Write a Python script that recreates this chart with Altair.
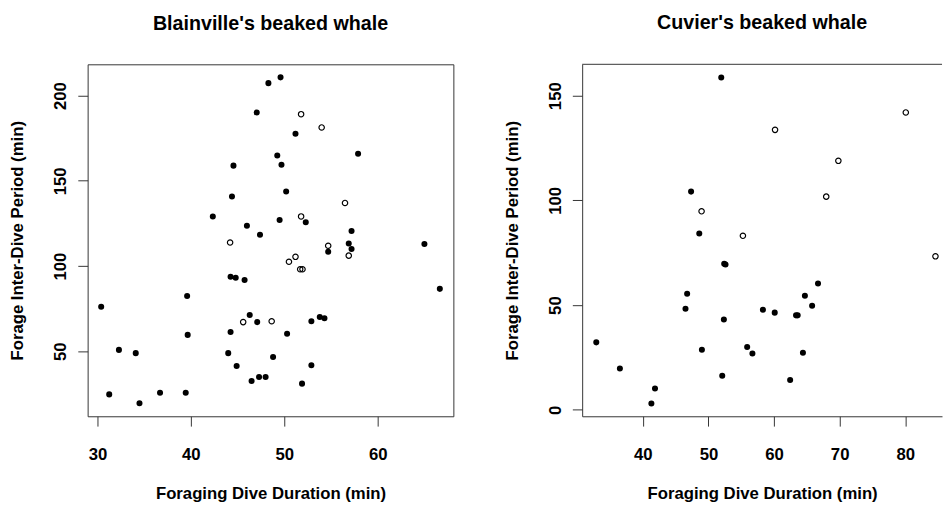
import altair as alt
import pandas as pd

# ---- Blainville's beaked whale ----
blain_filled_x = [48.3, 49.6, 47.05, 51.2, 57.9, 49.25, 49.7, 44.56, 50.2, 44.4, 52.3, 49.5,
                  46.0, 47.4, 42.35, 57.2, 56.9, 57.2, 54.7, 65.0, 66.65, 44.25, 44.8, 45.75,
                  46.3, 47.1, 44.25, 50.3, 52.9, 53.8, 54.3, 44.0, 44.9, 48.8, 52.9, 46.5,
                  47.3, 48.0, 51.9, 30.4, 39.6, 39.66, 32.3, 34.1, 31.26, 34.5, 36.7, 39.45]
blain_filled_y = [207.3, 210.7, 190.1, 177.6, 165.9, 164.9, 159.4, 158.9, 143.7, 140.8, 125.7, 127.0,
                  123.6, 118.4, 129.1, 120.5, 113.2, 110.0, 108.4, 112.9, 86.6, 93.7, 93.1, 91.8,
                  71.3, 67.1, 61.3, 60.3, 67.6, 70.1, 69.4, 48.9, 41.4, 46.6, 41.8, 32.6,
                  34.9, 34.9, 31.0, 76.1, 82.4, 59.6, 50.8, 48.9, 24.7, 19.5, 25.7, 25.7]
blain_open_x = [51.8, 54.0, 56.5, 51.8, 44.2, 54.7, 56.9, 51.2, 50.5, 51.7, 51.95, 45.6, 48.65]
blain_open_y = [189.1, 181.3, 137.0, 129.1, 113.8, 111.9, 106.1, 105.4, 102.5, 98.1, 98.1, 67.1, 67.6]

# ---- Cuvier's beaked whale ----
cuv_filled_x = [51.95, 47.35, 48.6, 52.4, 52.6, 46.75, 46.5, 52.35, 32.9, 49.0, 55.9, 56.7, 36.5,
                52.1, 41.85, 41.3, 66.7, 64.7, 65.8, 58.3, 60.1, 63.35, 63.6, 64.4, 62.45]
cuv_filled_y = [158.7, 104.2, 84.2, 69.7, 69.4, 55.4, 48.3, 43.1, 32.2, 28.7, 30.0, 26.9, 19.7,
                16.3, 10.2, 3.0, 60.3, 54.5, 49.7, 47.8, 46.4, 45.1, 45.1, 27.2, 14.2]
cuv_open_x = [48.95, 55.25, 80.08, 60.15, 69.8, 67.95, 84.6]
cuv_open_y = [94.8, 83.1, 142.0, 133.7, 118.9, 101.8, 73.3]

blain_x_ticks = [30, 40, 50, 60]
blain_y_ticks = [50, 100, 150, 200]
cuv_x_ticks = [40, 50, 60, 70, 80]
cuv_y_ticks = [0, 50, 100, 150]

X_TITLE = "Foraging Dive Duration (min)"
Y_TITLE = "Forage Inter-Dive Period (min)"
FONT = "Liberation Sans"
LINE = "#333333"
H = 358


def panel(fx, fy, ox, oy, title, xdom, ydom, xticks, yticks, width, boxed):
    df_f = pd.DataFrame({"dur": fx, "ipi": fy})
    df_o = pd.DataFrame({"dur": ox, "ipi": oy})
    common = dict(grid=False, tickSize=10, tickColor=LINE, tickWidth=1,
                  domain=not boxed, domainColor=LINE, domainWidth=1,
                  labelFont=FONT, labelFontSize=17, labelFontWeight="bold", labelColor="black",
                  titleFont=FONT, titleFontSize=17, titleFontWeight="bold", titleColor="black")
    x = alt.X("dur:Q",
              scale=alt.Scale(domain=xdom, nice=False, zero=False),
              axis=alt.Axis(values=xticks, title=X_TITLE, labelPadding=21, labelBaseline="top",
                            titleY=71, titleBaseline="top", **common))
    y = alt.Y("ipi:Q",
              scale=alt.Scale(domain=ydom, nice=False, zero=False),
              axis=alt.Axis(values=yticks, title=Y_TITLE, labelAngle=270, labelAlign="center",
                            labelBaseline="bottom", labelPadding=8,
                            titleAngle=270, titleX=-71, titleBaseline="middle", **common))
    filled = alt.Chart(df_f).mark_circle(size=38, color="black", opacity=1).encode(x=x, y=y)
    opened = alt.Chart(df_o).mark_point(shape="circle", size=30, color="black", strokeWidth=1.2,
                                        filled=False, opacity=1).encode(x=x, y=y)
    layers = [filled, opened]
    if not boxed:
        top = alt.Chart(pd.DataFrame({"a": [0]})).mark_rule(color=LINE, strokeWidth=1).encode(
            x=alt.value(0), x2=alt.value(width), y=alt.value(0))
        layers.append(top)
    ch = alt.layer(*layers).properties(
        width=width, height=H,
        title=alt.TitleParams(title, font=FONT, fontSize=20, fontWeight="bold", color="black",
                              anchor="middle", frame="group", offset=31),
    )
    if not boxed:
        ch = ch.properties(view=alt.ViewBackground(stroke="transparent"))
    return ch


left = panel(blain_filled_x, blain_filled_y, blain_open_x, blain_open_y,
             "Blainville's beaked whale", [28.95, 68.1], [11.85, 218.35],
             blain_x_ticks, blain_y_ticks, 372, True)
right = panel(cuv_filled_x, cuv_filled_y, cuv_open_x, cuv_open_y,
              "Cuvier's beaked whale", [30.75, 85.6], [-3.1, 165.0],
              cuv_x_ticks, cuv_y_ticks, 366, False)

chart = alt.hconcat(left, right, spacing=49).properties(
    padding={"left": 0, "top": 1, "right": 0, "bottom": 0},
    background="white",
).configure_view(stroke=LINE, strokeWidth=1)

chart.save("out.html", embed_options={"renderer": "svg", "actions": False})
